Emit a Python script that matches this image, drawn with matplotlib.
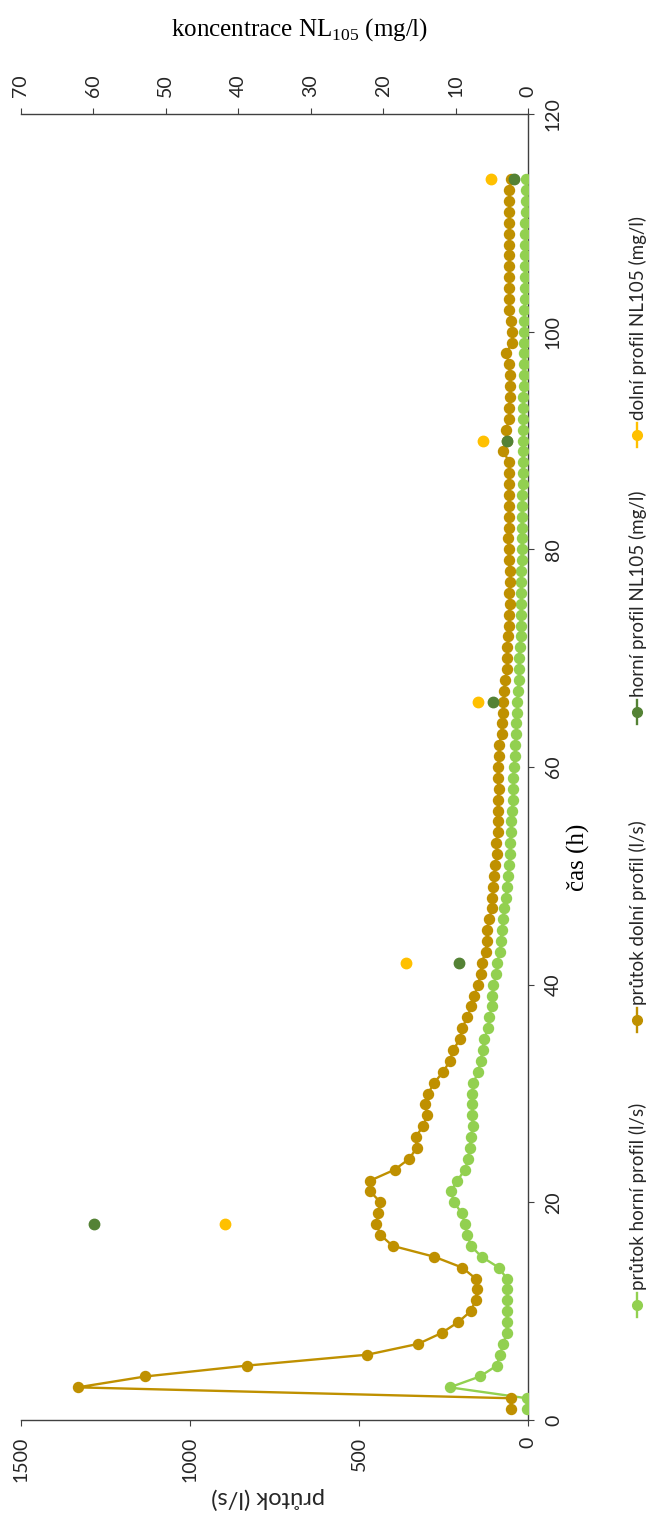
import matplotlib
matplotlib.use("Agg")
import matplotlib.pyplot as plt
from matplotlib.lines import Line2D

# ----------------------------
# Data
# ----------------------------

hours = list(range(1, 115))

flow_upper = [
    5, 5, 232, 143, 93, 84, 74, 64, 64, 63,
    63, 63, 64, 87, 138, 170, 180, 187, 197, 219,
    229, 210, 187, 178, 173, 170, 163, 167, 165, 165,
    162, 148, 141, 135, 131, 118, 115, 108, 106, 103,
    94, 92, 84, 81, 79, 74, 72, 66, 64, 61,
    56, 55, 54, 52, 50, 48, 46, 46, 44, 43,
    40, 38, 37, 35, 34, 32, 30, 28, 28, 27,
    26, 23, 23, 23, 21, 21, 21, 21, 20, 19,
    19, 19, 19, 18, 18, 17, 17, 17, 16, 16,
    16, 15, 15, 15, 14, 14, 14, 13, 13, 12,
    12, 12, 11, 11, 11, 10, 10, 10, 9, 9,
    8, 8, 7, 7,
]

flow_lower = [
    52, 52, 1332, 1132, 831, 476, 325, 256, 207, 170,
    156, 151, 156, 195, 278, 401, 437, 449, 444, 437,
    467, 467, 395, 352, 330, 333, 311, 299, 304, 296,
    278, 251, 232, 222, 202, 195, 181, 168, 160, 148,
    141, 138, 126, 123, 123, 115, 108, 106, 103, 101,
    97, 92, 94, 91, 91, 91, 89, 88, 91, 89,
    87, 87, 79, 79, 76, 74, 71, 68, 62, 64,
    62, 59, 57, 56, 54, 56, 54, 54, 58, 58,
    59, 58, 57, 58, 58, 58, 58, 56, 74, 64,
    66, 56, 56, 54, 54, 54, 56, 66, 47, 47,
    52, 56, 56, 56, 57, 57, 57, 57, 57, 57,
    57, 56, 56, 50,
]

conc_hours = [18, 42, 66, 90, 114]
conc_upper = [59.9, 9.5, 4.8, 3.0, 2.0]
conc_lower = [41.8, 16.9, 7.0, 6.3, 5.2]

# ----------------------------
# Style
# ----------------------------

W, H = 654, 1517
C_UP = "#92D050"
C_LOW = "#BF9000"
C_CUP = "#548235"
C_CLOW = "#FFC000"
AXIS_C = "#404040"
TXT_C = "#262626"
SANS = ["Lato", "Noto Sans", "DejaVu Sans"]
SERIF = ["Liberation Serif", "DejaVu Serif"]

plt.rcParams["font.family"] = SANS
plt.rcParams["mathtext.fontset"] = "custom"
plt.rcParams["mathtext.rm"] = "Liberation Serif"


def fx(px):
    return px / W


def fy(py):
    return 1 - py / H


fig = plt.figure(figsize=(W / 100, H / 100), dpi=100)
fig.patch.set_facecolor("white")

left, right, top, bottom = 20.8, 528.3, 114, 1420
ax = fig.add_axes([fx(left), fy(bottom), fx(right - left), (bottom - top) / H])
ax.set_xlim(1500, 0)
ax.set_ylim(0, 120)

ax2 = ax.twiny()
ax2.set_xlim(70, 0)

for a in (ax, ax2):
    for s in a.spines.values():
        s.set_visible(False)
ax.spines["bottom"].set_visible(True)
ax.spines["right"].set_visible(True)
ax2.spines["top"].set_visible(True)
for s in (ax.spines["bottom"], ax.spines["right"], ax2.spines["top"]):
    s.set_color(AXIS_C)
    s.set_linewidth(1.0)

# flow series
ax.plot(flow_upper, hours, color=C_UP, lw=1.7, marker="o", ms=7.2, mec=C_UP, zorder=3)
ax.plot(flow_lower, hours, color=C_LOW, lw=1.7, marker="o", ms=7.2, mec=C_LOW, zorder=4)

# concentration points
ax2.plot(conc_upper, conc_hours, ls="none", marker="o", ms=7.5, color=C_CUP, zorder=5)
ax2.plot(conc_lower, conc_hours, ls="none", marker="o", ms=7.5, color=C_CLOW, zorder=5)

# ticks
ax.set_xticks([0, 500, 1000, 1500])
ax.set_yticks(range(0, 121, 20))
ax.yaxis.tick_right()
ax.tick_params(axis="x", direction="out", length=4, color=AXIS_C, labelsize=14,
               labelcolor=TXT_C, labelrotation=90, pad=8)
ax.tick_params(axis="y", direction="out", length=4, color=AXIS_C, labelsize=14,
               labelcolor=TXT_C, labelrotation=90, pad=8)
for lab in ax.get_yticklabels():
    lab.set_va("center")

ax2.set_xticks(range(0, 71, 10))
ax2.tick_params(axis="x", direction="out", length=4, color=AXIS_C, labelsize=14,
                labelcolor=TXT_C, labelrotation=90, pad=8)

# axis titles
fig.text(fx(300), fy(30), r"koncentrace NL$_{\mathrm{105}}$ (mg/l)", family=SERIF,
         fontsize=18, ha="center", va="center", color="black")
fig.text(fx(268), fy(1498), "průtok (l/s)", fontsize=17, rotation=180,
         ha="center", va="center", color=TXT_C)
fig.text(fx(578), fy(857), "čas (h)", family=SERIF, fontsize=18, rotation=90,
         ha="center", va="center", color="black")

# legend (drawn by hand, rotated with the chart)
legend_items = [
    ("průtok horní profil (l/s)", C_UP, 1305),
    ("průtok dolní profil (l/s)", C_LOW, 1020),
    ("horní profil NL105 (mg/l)", C_CUP, 712),
    ("dolní profil NL105 (mg/l)", C_CLOW, 435),
]
leg_x = 637
for label, colour, ymark in legend_items:
    fig.add_artist(Line2D([fx(leg_x), fx(leg_x)], [fy(ymark + 12), fy(ymark - 12)],
                          transform=fig.transFigure, color=colour, lw=1.7))
    fig.add_artist(Line2D([fx(leg_x)], [fy(ymark)], transform=fig.transFigure,
                          color=colour, marker="o", ms=7, ls="none"))
    fig.text(fx(leg_x + 1), fy(ymark - 15), label, fontsize=13.5, rotation=90,
             ha="center", va="bottom", color=TXT_C)

fig.savefig("out.png", dpi=100, facecolor="white")
